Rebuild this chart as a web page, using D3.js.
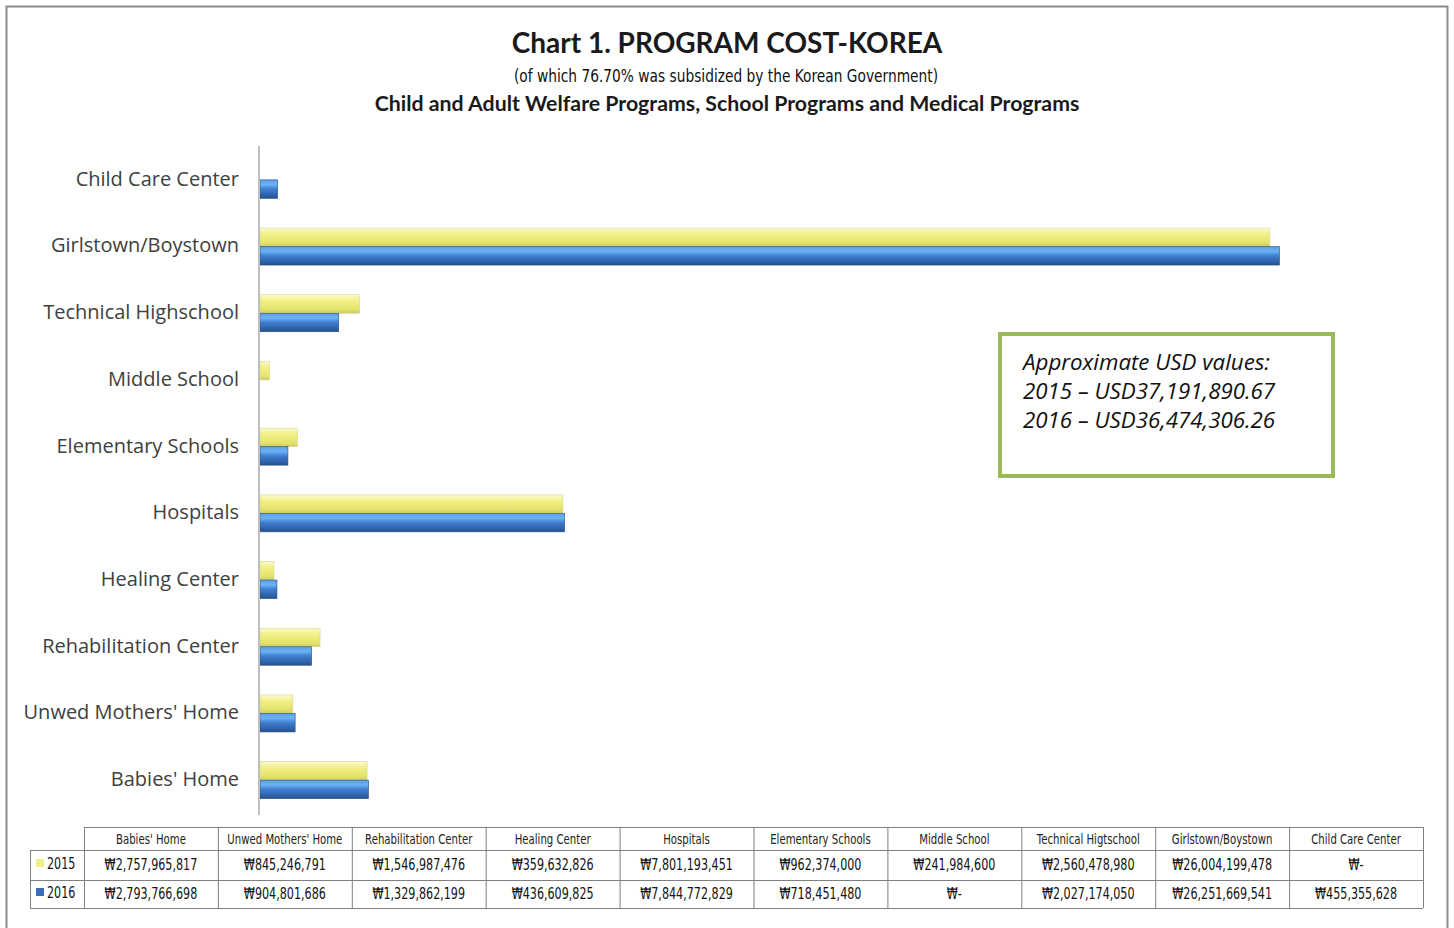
<!DOCTYPE html>
<html><head><meta charset="utf-8">
<script src="https://cdn.jsdelivr.net/npm/d3@7"></script>
<style>body{margin:0;background:#fff}svg{display:block}</style>
</head><body>
<script>
const categories = ["Babies' Home","Unwed Mothers' Home","Rehabilitation Center","Healing Center","Hospitals","Elementary Schools","Middle School","Technical Highschool","Girlstown/Boystown","Child Care Center"];
const tableHeaders = ["Babies' Home","Unwed Mothers' Home","Rehabilitation Center","Healing Center","Hospitals","Elementary Schools","Middle School","Technical Higtschool","Girlstown/Boystown","Child Care Center"];
const seriesNames = ["2015","2016"];
const values2015 = [2757965817,845246791,1546987476,359632826,7801193451,962374000,241984600,2560478980,26004199478,0];
const values2016 = [2793766698,904801686,1329862199,436609825,7844772829,718451480,0,2027174050,26251669541,455355628];
const titleLines = ["Chart 1. PROGRAM COST-KOREA","(of which 76.70% was subsidized by the Korean Government)","Child and Adult Welfare Programs, School Programs and Medical Programs"];
const noteLines = ["Approximate USD values:","2015 \u2013 USD37,191,890.67","2016 \u2013 USD36,474,306.26"];

const W=1454,H=928;
const svg=d3.select("body").append("svg").attr("width",W).attr("height",H);
const defs=svg.append("defs");
function grad(id,stops){const g=defs.append("linearGradient").attr("id",id).attr("x1",0).attr("y1",0).attr("x2",0).attr("y2",1);
 stops.forEach(s=>g.append("stop").attr("offset",s[0]).attr("stop-color",s[1]));}
grad("gY",[[0,"#fbfbd0"],[0.3,"#f2f08a"],[0.8,"#e3e36a"],[1,"#c9cc6a"]]);
grad("gB",[[0,"#5a9ee6"],[0.25,"#6db3f5"],[0.5,"#3f7fd0"],[0.85,"#2d5fa8"],[1,"#274f86"]]);
const fills={"2015":"url(#gY)","2016":"url(#gB)"};
const keyFill={"2015":"#eef08a","2016":"#3a6fb8"};
const condensed="'DejaVu Sans','Liberation Sans',sans-serif";

function narrowText(parent,x,y,txt,size,sx,anchor,fill){
 const g=parent.append("g").attr("transform",`translate(${x},${y}) scale(${sx},1)`);
 return g.append("text").attr("x",0).attr("y",0).attr("text-anchor",anchor||"middle")
  .attr("font-family",condensed).attr("font-size",size).attr("fill",fill||"#1a1a1a").text(txt);
}

// outer frame
svg.append("rect").attr("x",6.5).attr("y",6.5).attr("width",1441).attr("height",930).attr("fill","none").attr("stroke","#8c8c8c").attr("stroke-width",2);

// titles
svg.append("text").attr("x",727).attr("y",53).attr("text-anchor","middle").attr("font-family","Lato, 'Open Sans', sans-serif").attr("font-weight","bold").attr("font-size",28).attr("fill","#1a1a1a").text(titleLines[0]);
narrowText(svg,726,82,titleLines[1],18,0.765,"middle","#111");
svg.append("text").attr("x",727).attr("y",111).attr("text-anchor","middle").attr("font-family","Lato, 'Open Sans', sans-serif").attr("font-weight","bold").attr("font-size",21.3).attr("fill","#1a1a1a").text(titleLines[2]);

// scales
const x=d3.scaleLinear().domain([0,30e9]).range([260,1425]);
const yCats=categories.slice().reverse();
const y=d3.scaleBand().domain(yCats).range([146,813]);
const ySub=d3.scaleBand().domain(seriesNames).range([-18,19]);

const data=[];
categories.forEach((c,i)=>{data.push({cat:c,s:"2015",v:values2015[i]});data.push({cat:c,s:"2016",v:values2016[i]});});

// bars
const bars=svg.append("g");
bars.selectAll("rect").data(data.filter(d=>d.v>0)).join("rect")
 .attr("x",x(0)).attr("y",d=>y(d.cat)+y.bandwidth()/2+ySub(d.s))
 .attr("width",d=>x(d.v)-x(0)).attr("height",ySub.bandwidth())
 .attr("fill",d=>fills[d.s]).attr("stroke",d=>d.s==="2016"?"#2a4f80":"#d6d68a").attr("stroke-width",0.6);

// axis
const ax=svg.append("g").attr("transform","translate(259,0)").call(d3.axisLeft(y).tickSize(0).tickPadding(20));
ax.select(".domain").attr("stroke","#bfbfbf").attr("stroke-width",2).attr("d","M0,146V815");
ax.selectAll("text").attr("font-family","'Open Sans',sans-serif").attr("font-size",20).attr("fill","#404040");

// note box
const nb=svg.append("g");
nb.append("rect").attr("x",1000).attr("y",334).attr("width",333).attr("height",142).attr("fill","#fff").attr("stroke","#9bbb59").attr("stroke-width",4);
noteLines.forEach((t,i)=>nb.append("text").attr("x",1023).attr("y",370+i*29).attr("font-family","'Open Sans',sans-serif").attr("font-style","italic").attr("font-size",22.3).attr("fill","#111").text(t));

// data table
const tx=d3.scaleBand().domain(tableHeaders).range([84,1423]);
const rowY=[827,850,880,908];
const tg=svg.append("g").attr("stroke","#7f7f7f").attr("stroke-width",1);
tg.append("line").attr("x1",84).attr("x2",1423).attr("y1",rowY[0]+0.5).attr("y2",rowY[0]+0.5);
[1,2,3].forEach(r=>tg.append("line").attr("x1",30).attr("x2",1423).attr("y1",rowY[r]+0.5).attr("y2",rowY[r]+0.5));
tableHeaders.forEach(h=>tg.append("line").attr("x1",tx(h)+0.5).attr("x2",tx(h)+0.5).attr("y1",rowY[0]).attr("y2",rowY[3]));
tg.append("line").attr("x1",1423.5).attr("x2",1423.5).attr("y1",rowY[0]).attr("y2",rowY[3]);
tg.append("line").attr("x1",30.5).attr("x2",30.5).attr("y1",rowY[1]).attr("y2",rowY[3]);

const tt=svg.append("g");
tableHeaders.forEach(h=>narrowText(tt,tx(h)+tx.bandwidth()/2,844,h,14.5,0.7,"middle","#222"));
const fmt=v=>v>0?"\u20a9"+d3.format(",")(v):"\u20a9-";
[values2015,values2016].forEach((arr,r)=>{
 arr.forEach((v,i)=>narrowText(tt,tx(tableHeaders[i])+tx.bandwidth()/2,r===0?870:899,fmt(v),15.5,0.72,"middle","#111"));
});
seriesNames.forEach((s,r)=>{
 const yy=r===0?869:898;
 svg.append("rect").attr("x",36).attr("y",yy-10).attr("width",8).attr("height",8).attr("fill",keyFill[s]);
 narrowText(svg,47,yy,s,15.5,0.72,"start","#111");
});
</script>
</body></html>
